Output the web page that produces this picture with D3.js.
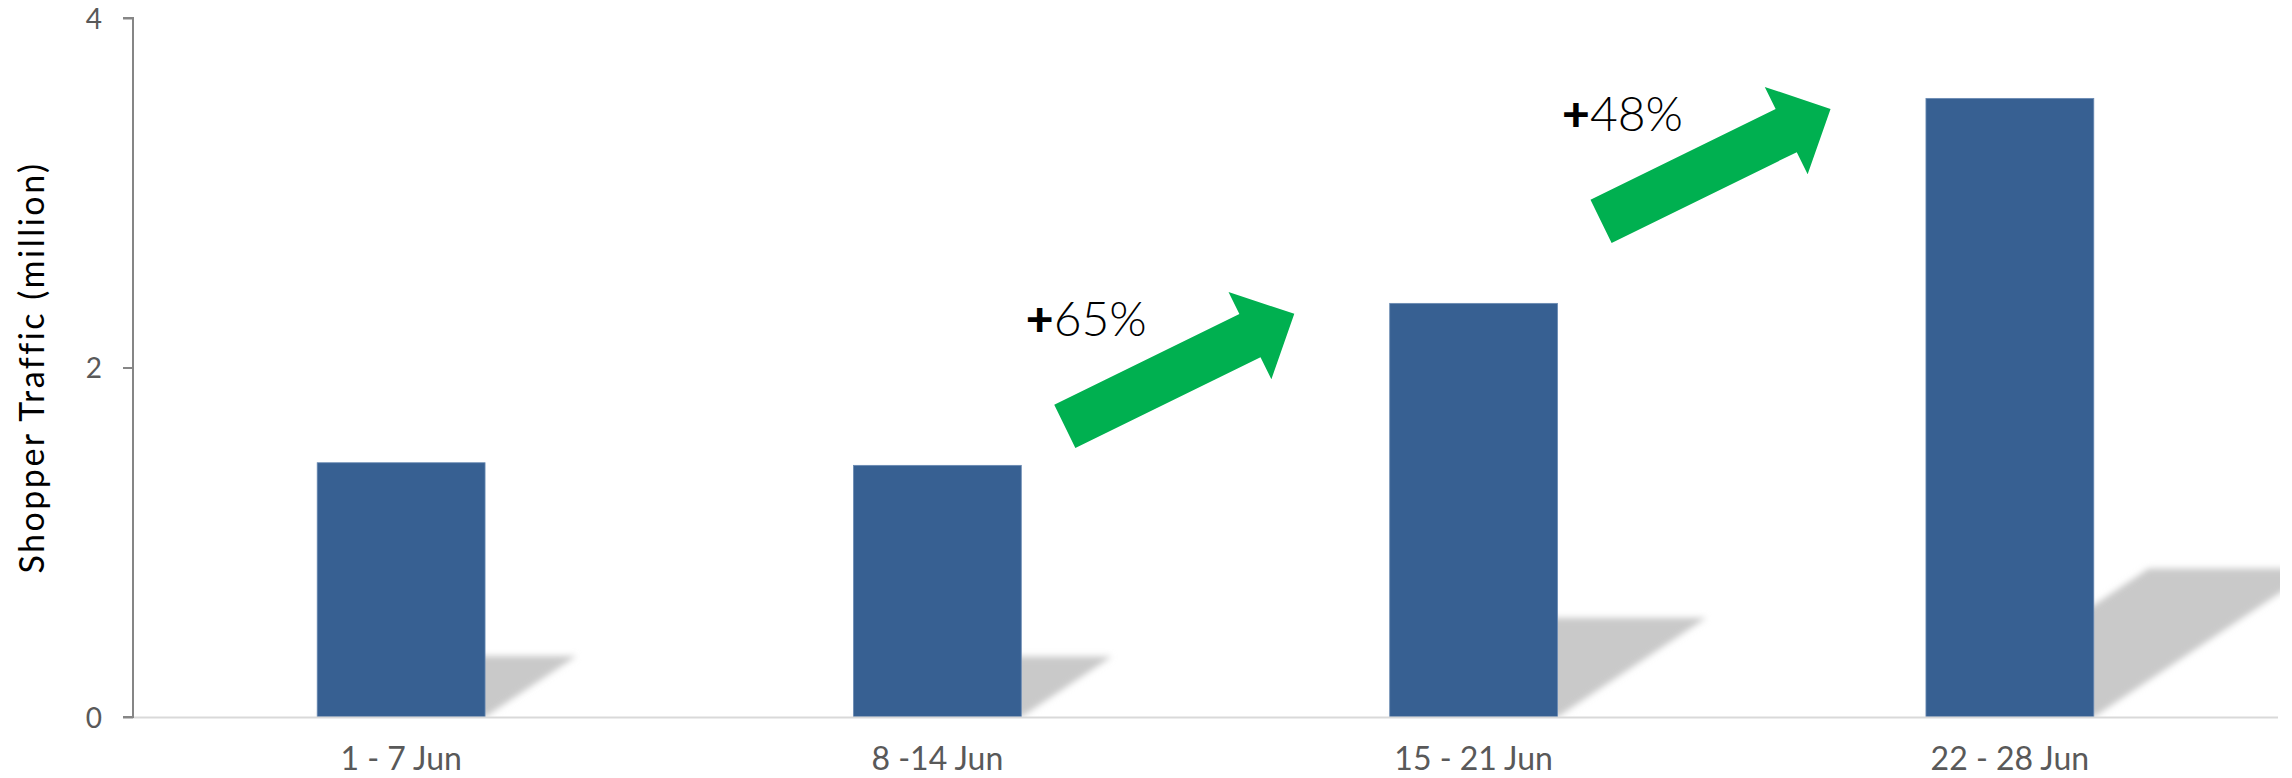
<!DOCTYPE html>
<html>
<head>
<meta charset="utf-8">
<script src="https://cdn.jsdelivr.net/npm/d3@7"></script>
<style>
  html, body { margin: 0; padding: 0; background: #fff; }
  svg { display: block; }
  text { font-family: "Lato", "Open Sans", sans-serif; }
</style>
</head>
<body>
<svg id="chart" width="2292" height="778"></svg>
<script>
// Weekly shopper traffic, June
const weeks = ["1 - 7 Jun", "8 -14 Jun", "15 - 21 Jun", "22 - 28 Jun"];
const traffic = [1.455, 1.44, 2.367, 3.54];   // million shoppers
const yTicks = [0, 2, 4];

// Week-on-week growth callouts
const growthFrom = ["8 -14 Jun", "15 - 21 Jun"];
const growthTo = ["15 - 21 Jun", "22 - 28 Jun"];
const growthLabels = ["65%", "48%"];

const svg = d3.select("#chart");
const plot = { left: 133, right: 2278, top: 18, bottom: 717 };

const x = d3.scaleBand()
  .domain(weeks)
  .range([plot.left, plot.right])
  .paddingInner(0.687)
  .paddingOuter(0.3435);

const y = d3.scaleLinear()
  .domain([0, 4])
  .range([plot.bottom, plot.top]);

const bw = x.bandwidth();
const data = weeks.map((w, i) => ({ week: w, value: traffic[i] }));

// ---- defs: shadow blur + clip to plot area
const defs = svg.append("defs");
defs.append("filter")
  .attr("id", "soft")
  .attr("x", "-20%").attr("y", "-20%").attr("width", "140%").attr("height", "140%")
  .append("feGaussianBlur").attr("stdDeviation", 3.2);
defs.append("clipPath").attr("id", "plotClip")
  .append("rect")
  .attr("x", plot.left).attr("y", 0)
  .attr("width", plot.right - plot.left + 2).attr("height", plot.bottom);

// ---- cast shadows behind the bars
const skewX = 0.36, squashY = 0.24;
svg.append("g")
  .attr("clip-path", "url(#plotClip)")
  .selectAll("polygon")
  .data(data)
  .join("polygon")
  .attr("filter", "url(#soft)")
  .attr("fill", "#c9c9c9")
  .attr("points", d => {
    const L = x(d.week), R = L + bw, base = y(0), h = y(0) - y(d.value);
    return [
      [L, base], [R, base],
      [R + skewX * h, base - squashY * h],
      [L + skewX * h, base - squashY * h]
    ].map(p => p.join(",")).join(" ");
  });

// ---- bars
svg.append("g")
  .selectAll("rect")
  .data(data)
  .join("rect")
  .attr("x", d => x(d.week))
  .attr("y", d => y(d.value))
  .attr("width", bw)
  .attr("height", d => y(0) - y(d.value))
  .attr("fill", "#376092")
  .attr("stroke", "#6a8ab3")
  .attr("stroke-width", 0.8);

// ---- baseline
svg.append("line")
  .attr("x1", plot.left).attr("x2", plot.right)
  .attr("y1", y(0) + 0.5).attr("y2", y(0) + 0.5)
  .attr("stroke", "#d9d9d9").attr("stroke-width", 2);

// ---- y axis
const yAxis = d3.axisLeft(y).tickValues(yTicks).tickSize(10).tickPadding(21)
  .tickFormat(d3.format("d"));
const gy = svg.append("g")
  .attr("transform", `translate(${plot.left},0)`)
  .call(yAxis);
gy.select(".domain")
  .attr("d", `M-10,${y(4)}H0V${y(0)}H-10`)
  .attr("stroke", "#868686").attr("stroke-width", 2).attr("fill", "none");
gy.selectAll(".tick line").attr("stroke", "#868686").attr("stroke-width", 2);
gy.selectAll(".tick text")
  .attr("fill", "#595959")
  .attr("dy", "0.36em")
  .style("font-size", "28px")
  .style("font-family", "Lato, sans-serif");

// ---- x labels
svg.append("g")
  .selectAll("text")
  .data(weeks)
  .join("text")
  .attr("x", d => x(d) + bw / 2)
  .attr("y", 770)
  .attr("text-anchor", "middle")
  .attr("fill", "#595959")
  .style("font-size", "32px")
  .text(d => d);

// ---- y title
svg.append("text")
  .attr("transform", `translate(44,${(plot.top + plot.bottom) / 2}) rotate(-90)`)
  .attr("text-anchor", "middle")
  .attr("fill", "#000")
  .style("font-size", "34px")
  .style("font-weight", "400")
  .style("letter-spacing", "2.5px")
  .text("Shopper Traffic (million)");

// ---- growth arrows
const arrowLen = 255.6, shaftHalf = 24, headHalf = 48.7, headLen = 49.4;
const angle = Math.atan2(-112.5, 229.5) * 180 / Math.PI;
const arrowPath = d3.path();
arrowPath.moveTo(0, -shaftHalf);
arrowPath.lineTo(arrowLen - headLen, -shaftHalf);
arrowPath.lineTo(arrowLen - headLen, -headHalf);
arrowPath.lineTo(arrowLen, 0);
arrowPath.lineTo(arrowLen - headLen, headHalf);
arrowPath.lineTo(arrowLen - headLen, shaftHalf);
arrowPath.lineTo(0, shaftHalf);
arrowPath.closePath();

const growth = growthLabels.map((g, i) => ({
  from: growthFrom[i], to: growthTo[i], label: g,
  toValue: traffic[weeks.indexOf(growthTo[i])]
}));

const ga = svg.append("g").selectAll("g").data(growth).join("g")
  .attr("transform", d => `translate(${x(d.from) + bw + 43.5},${y(d.toValue) + 123})`);

ga.append("path")
  .attr("d", arrowPath.toString())
  .attr("transform", `rotate(${angle})`)
  .attr("fill", "#00b050");

const lbl = ga.append("text")
  .attr("x", -39)
  .attr("y", -90)
  .attr("fill", "#000")
  .style("font-size", "48px");
lbl.append("tspan").style("font-weight", "900").text("+");
lbl.append("tspan").style("font-weight", "300").text(d => d.label);
</script>
</body>
</html>
